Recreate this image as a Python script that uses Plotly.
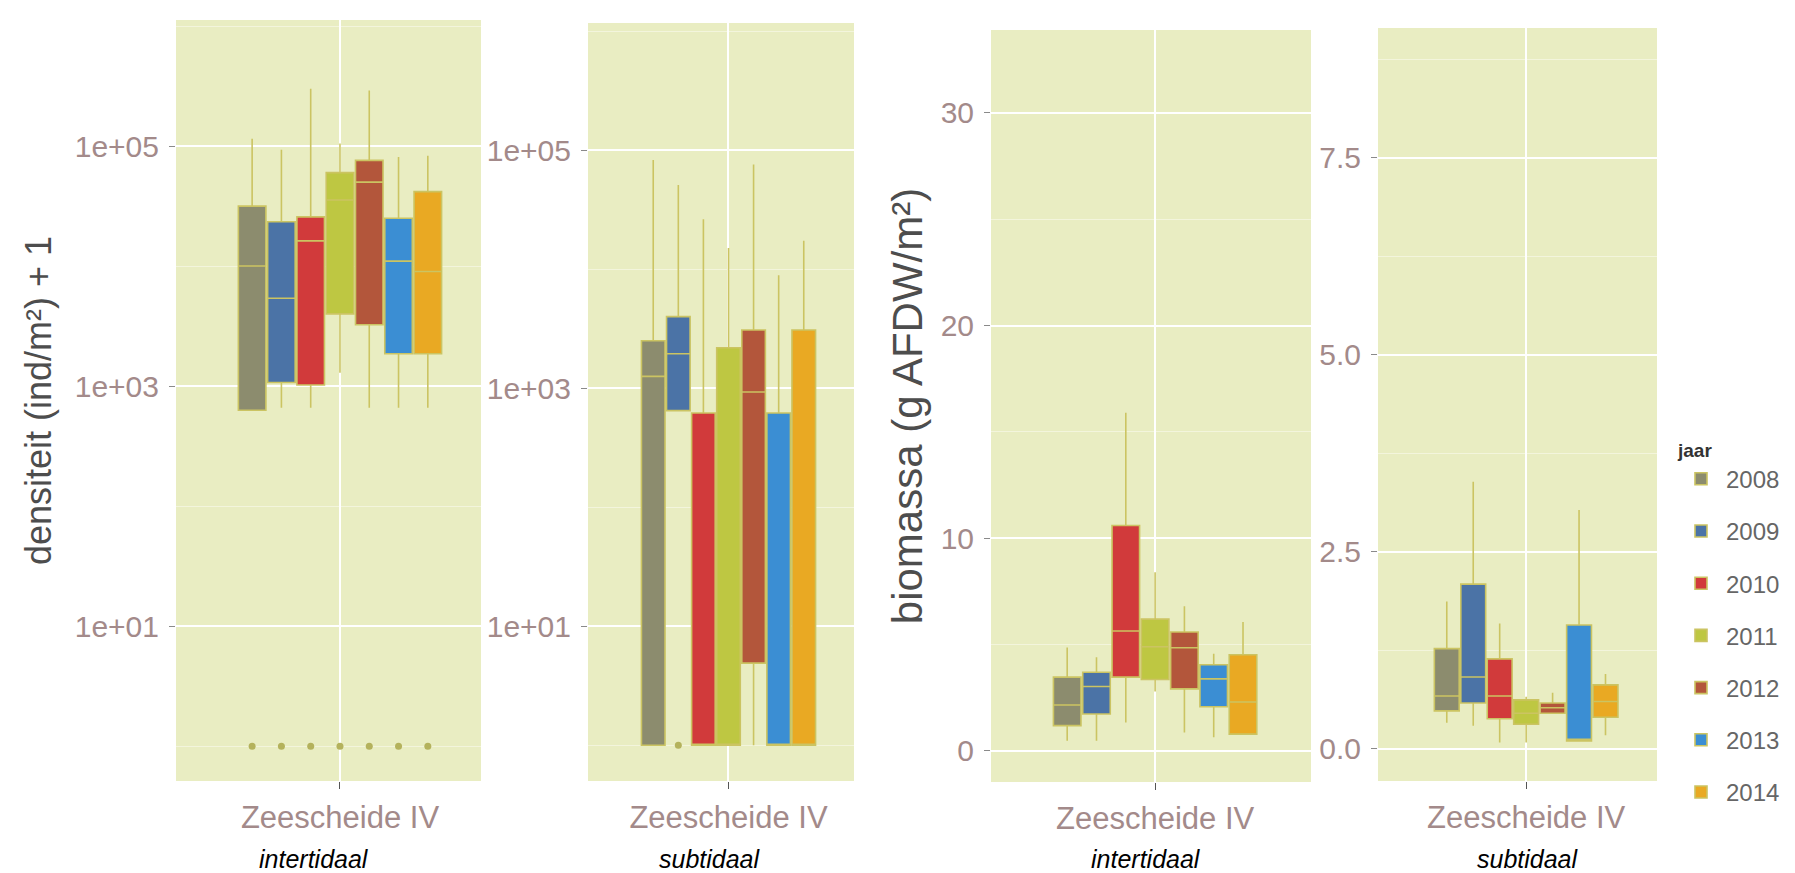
import plotly.graph_objects as go

W, H = 1795, 873

years = ["2008", "2009", "2010", "2011", "2012", "2013", "2014"]
colors = ["#8C8C6E", "#4B73A6", "#D13A3B", "#BEC742", "#B3563B", "#3B8ED3", "#E9A923"]
category = "Zeescheide IV"

# Panel 1: densiteit intertidaal (ind/m² + 1)
dens_int_low = [630, 660, 660, 1290, 660, 660, 660]
dens_int_q1 = [630, 1070, 1020, 4000, 3240, 1860, 1860]
dens_int_med = [10000, 5400, 16200, 35500, 50000, 11000, 9000]
dens_int_q3 = [31600, 23400, 25700, 60000, 76000, 25000, 41700]
dens_int_up = [115000, 93000, 300000, 105000, 290000, 81000, 83000]
dens_int_out = [[1], [1], [1], [1], [1], [1], [1]]

# Panel 2: densiteit subtidaal (ind/m² + 1)
dens_sub_low = [1, 650, 1, 1, 1, 1, 1]
dens_sub_q1 = [1, 650, 1, 1, 4.9, 1, 1]
dens_sub_med = [1260, 1950, 1, 1, 930, 1, 1]
dens_sub_q3 = [2510, 4000, 620, 2190, 3090, 620, 3090]
dens_sub_up = [83000, 51000, 26300, 15100, 76000, 8900, 17400]
dens_sub_out = [None, [1], None, None, None, None, None]

# Panel 3: biomassa intertidaal (g AFDW/m²)
bio_int_low = [0.48, 0.48, 1.34, 2.8, 0.87, 0.64, 0.79]
bio_int_q1 = [1.19, 1.74, 3.47, 3.36, 2.92, 2.08, 0.79]
bio_int_med = [2.16, 3.03, 5.64, 4.9, 4.85, 3.39, 2.3]
bio_int_q3 = [3.47, 3.70, 10.6, 6.2, 5.59, 4.05, 4.52]
bio_int_up = [4.87, 4.41, 15.9, 8.4, 6.8, 4.57, 6.06]

# Panel 4: biomassa subtidaal (g AFDW/m²)
bio_sub_low = [0.33, 0.29, 0.08, 0.08, 0.45, 0.10, 0.17]
bio_sub_q1 = [0.48, 0.58, 0.38, 0.31, 0.45, 0.10, 0.40]
bio_sub_med = [0.67, 0.91, 0.67, 0.45, 0.52, 0.12, 0.60]
bio_sub_q3 = [1.27, 2.09, 1.14, 0.62, 0.58, 1.57, 0.81]
bio_sub_up = [1.87, 3.39, 1.59, 0.66, 0.71, 3.03, 0.95]

dens_ticks = [10, 1000, 100000]
dens_ticktext = ["1e+01", "1e+03", "1e+05"]
bio_int_ticks = [0, 10, 20, 30]
bio_int_ticktext = ["0", "10", "20", "30"]
bio_sub_ticks = [0, 2.5, 5, 7.5]
bio_sub_ticktext = ["0.0", "2.5", "5.0", "7.5"]

captions = ["intertidaal", "subtidaal", "intertidaal", "subtidaal"]

panels = [
    dict(low=dens_int_low, q1=dens_int_q1, med=dens_int_med, q3=dens_int_q3, up=dens_int_up, out=dens_int_out),
    dict(low=dens_sub_low, q1=dens_sub_q1, med=dens_sub_med, q3=dens_sub_q3, up=dens_sub_up, out=dens_sub_out),
    dict(low=bio_int_low, q1=bio_int_q1, med=bio_int_med, q3=bio_int_q3, up=bio_int_up, out=[None] * 7),
    dict(low=bio_sub_low, q1=bio_sub_q1, med=bio_sub_med, q3=bio_sub_q3, up=bio_sub_up, out=[None] * 7),
]

# pixel geometry of the four panels: left, right, top, bottom, x-range end
geom = [
    (168, 473, 12, 773, 0.516),
    (580, 846, 15, 773, 0.536),
    (983, 1303, 22, 774, 0.57),
    (1370, 1649, 20, 773, 0.53),
]

BG = "#E9EDC2"
LINE = "#CBC462"
FAMILY = "Liberation Sans, Arial, sans-serif"
TICKFONT = dict(family=FAMILY, size=30, color="#A38A8A")

fig = go.Figure()

for p, panel in enumerate(panels):
    xa = "x" if p == 0 else f"x{p+1}"
    ya = "y" if p == 0 else f"y{p+1}"
    for i, yr in enumerate(years):
        kw = {}
        if panel["out"][i] is not None:
            kw["y"] = [panel["out"][i]]
        fig.add_trace(go.Box(
            x=[category],
            q1=[panel["q1"][i]], median=[panel["med"][i]], q3=[panel["q3"][i]],
            lowerfence=[panel["low"][i]], upperfence=[panel["up"][i]],
            orientation="v",
            name=yr, legendgroup=yr, showlegend=(p == 0),
            offsetgroup=yr, alignmentgroup=f"panel{p+1}",
            fillcolor=colors[i],
            line=dict(color=LINE, width=1.6),
            whiskerwidth=0,
            boxpoints="outliers", pointpos=0, jitter=0,
            marker=dict(color="#B4B25C", size=7),
            xaxis=xa, yaxis=ya,
            hoverinfo="skip",
            **kw,
        ))

layout = dict(
    width=W, height=H, autosize=False,
    margin=dict(l=0, r=0, t=0, b=0),
    paper_bgcolor="white",
    boxmode="group", boxgap=0.25, boxgroupgap=0.06,
    font=dict(family=FAMILY, color="#555555"),
    showlegend=True,
    legend=dict(
        x=1668 / W, y=1 - 424 / H, xanchor="left", yanchor="top",
        title=dict(text="<b>jaar</b>", font=dict(size=19, color="#333333")),
        font=dict(size=24, color="#666666"),
        tracegroupgap=18, bgcolor="white", itemwidth=40,
    ),
)

yaxis_specs = [
    dict(type="log", range=[-0.29, 6.05], tickvals=dens_ticks, ticktext=dens_ticktext,
         minor=dict(tickvals=[1, 100, 10000, 1000000], showgrid=True, gridcolor="#F3F5DC", gridwidth=1, ticks=""),
         title=dict(text="densiteit (ind/m²) + 1", font=dict(size=36, color="#4D4D4D"), standoff=12)),
    dict(type="log", range=[-0.30, 6.07], tickvals=dens_ticks, ticktext=dens_ticktext,
         minor=dict(tickvals=[1, 100, 10000, 1000000], showgrid=True, gridcolor="#F3F5DC", gridwidth=1, ticks="")),
    dict(range=[-1.46, 33.9], tickvals=bio_int_ticks, ticktext=bio_int_ticktext,
         minor=dict(tickvals=[5, 15, 25], showgrid=True, gridcolor="#F3F5DC", gridwidth=1, ticks=""),
         title=dict(text="biomassa (g AFDW/m²)", font=dict(size=42, color="#4D4D4D"), standoff=4)),
    dict(range=[-0.41, 9.15], tickvals=bio_sub_ticks, ticktext=bio_sub_ticktext,
         minor=dict(tickvals=[1.25, 3.75, 6.25, 8.75], showgrid=True, gridcolor="#F3F5DC", gridwidth=1, ticks="")),
]

for p, (l, r, t, b, xr) in enumerate(geom):
    xkey = "xaxis" if p == 0 else f"xaxis{p+1}"
    ykey = "yaxis" if p == 0 else f"yaxis{p+1}"
    yname = "y" if p == 0 else f"y{p+1}"
    xname = "x" if p == 0 else f"x{p+1}"
    layout[xkey] = dict(
        domain=[l / W, r / W], anchor=yname, type="category",
        range=[-0.6, xr], showgrid=True, gridcolor="white", gridwidth=1.6,
        ticks="outside", ticklen=7, tickcolor="#555555", tickwidth=1,
        tickfont=dict(family=FAMILY, size=31, color="#A38A8A"),
        ticklabelstandoff=2,
        showline=False, zeroline=False, fixedrange=True,
    )
    spec = yaxis_specs[p]
    ydict = dict(
        domain=[1 - b / H, 1 - t / H], anchor=xname,
        showgrid=True, gridcolor="white", gridwidth=1.6,
        ticks="outside", ticklen=6, tickcolor="#8A8A8A", tickwidth=1,
        tickfont=TICKFONT, ticklabelstandoff=4,
        showline=False, zeroline=False, fixedrange=True,
        tickmode="array",
    )
    ydict.update(spec)
    layout[ykey] = ydict

fig.update_layout(**layout)

for p in range(4):
    fig.add_shape(type="rect", xref="paper", yref="paper",
                  x0=geom[p][0] / W, x1=geom[p][1] / W,
                  y0=1 - geom[p][3] / H, y1=1 - geom[p][2] / H,
                  fillcolor=BG, line=dict(width=0), layer="below")

caption_x = [306, 702, 1138, 1520]
for p, txt in enumerate(captions):
    fig.add_annotation(text=f"<i>{txt}</i>", xref="paper", yref="paper",
                       x=caption_x[p] / W, y=1 - 851 / H, xanchor="center", yanchor="middle",
                       borderpad=0,
                       showarrow=False, font=dict(size=25, color="black", family=FAMILY))

fig.write_html("out.html")
